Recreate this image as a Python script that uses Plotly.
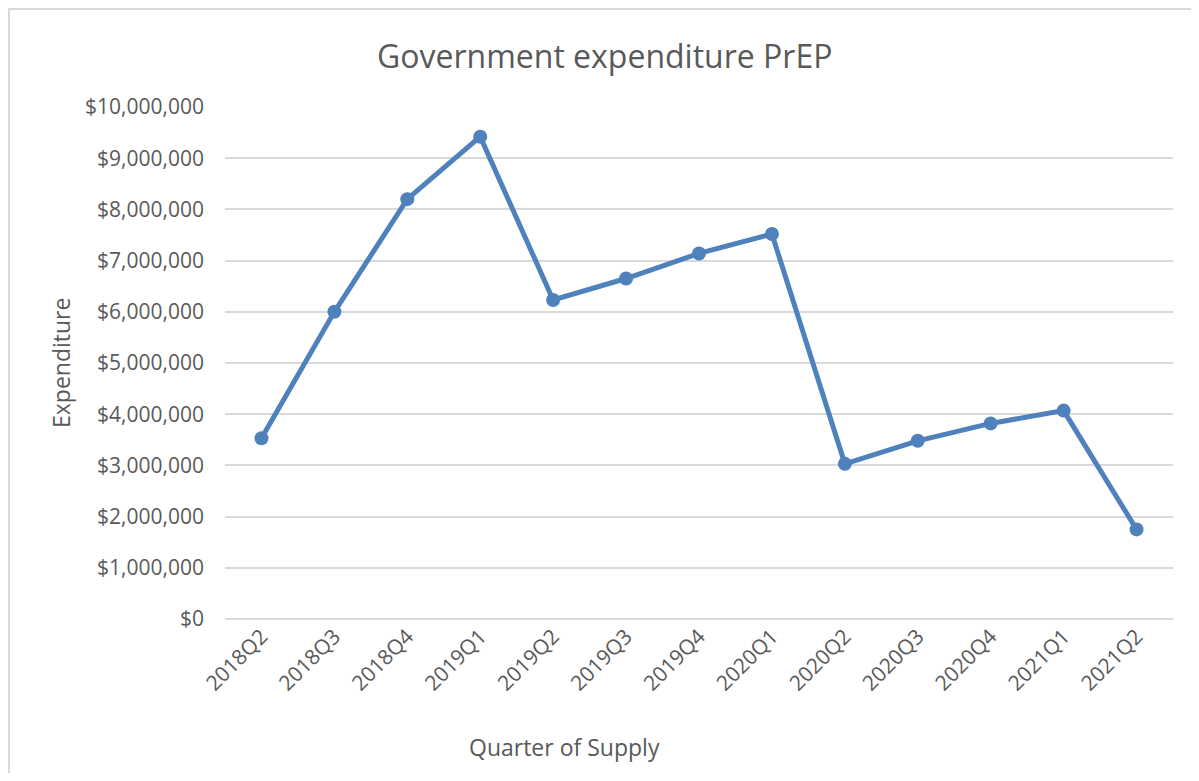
import plotly.graph_objects as go

# quarterly PrEP spend
quarters = ["2018Q2", "2018Q3", "2018Q4", "2019Q1", "2019Q2", "2019Q3", "2019Q4",
            "2020Q1", "2020Q2", "2020Q3", "2020Q4", "2021Q1", "2021Q2"]
expenditure = [3530000, 6000000, 8200000, 9420000, 6230000, 6650000, 7140000,
               7520000, 3030000, 3480000, 3820000, 4070000, 1750000]
y_ticks = list(range(0, 10000001, 1000000))
y_labels = [f"${v:,}" for v in y_ticks]

font = "Open Sans, Noto Sans, sans-serif"
grey = "#595959"
blue = "#4F81BD"

fig = go.Figure()
fig.add_trace(go.Scatter(x=quarters, y=expenditure, mode="lines+markers",
                         line=dict(color=blue, width=5),
                         marker=dict(color=blue, size=14)))

# plot area sits at page 225..1173 x 107..619 (body has 8px margin)
W, H = 1183, 765
L, R, T, B = 217, 18, 99, 154
pw, ph = W - L - R, H - T - B

def px(x):
    return (x - 8 - L) / pw

def py(y):
    return (H - B - (y - 8)) / ph

fig.update_layout(
    width=W, height=H,
    margin=dict(l=L, r=R, t=T, b=B),
    paper_bgcolor="white", plot_bgcolor="white",
    showlegend=False,
    font=dict(family=font, color=grey),
    shapes=[dict(type="rect", xref="paper", yref="paper",
                 x0=px(9), x1=px(1300), y0=py(900), y1=py(9),
                 line=dict(color="#D9D9D9", width=2), layer="below")],
    annotations=[
        dict(text="Government expenditure PrEP", x=px(604), y=py(55), xref="paper", yref="paper",
             showarrow=False, font=dict(size=32, color=grey), xanchor="center", yanchor="middle"),
        dict(text="Expenditure", x=px(61), y=py(363), xref="paper", yref="paper",
             showarrow=False, textangle=-90, font=dict(size=23, color=grey),
             xanchor="center", yanchor="middle"),
        dict(text="Quarter of Supply", x=px(564), y=py(747), xref="paper", yref="paper",
             showarrow=False, font=dict(size=23, color=grey), xanchor="center", yanchor="middle"),
    ],
)
fig.update_xaxes(type="category", range=[-0.5, len(quarters) - 0.5], tickangle=-45,
                 tickfont=dict(size=21, color=grey),
                 showgrid=False, showline=False, ticks="", ticklen=0)
fig.update_yaxes(range=[0, 10000000], tickmode="array", tickvals=y_ticks, ticktext=y_labels,
                 tickfont=dict(size=21, color=grey), showgrid=True, gridcolor="#D9D9D9",
                 gridwidth=1.5, zeroline=True, zerolinecolor="#D9D9D9", zerolinewidth=1.5,
                 showline=False, ticks="", ticklabelstandoff=20)

fig.write_html("out.html")
